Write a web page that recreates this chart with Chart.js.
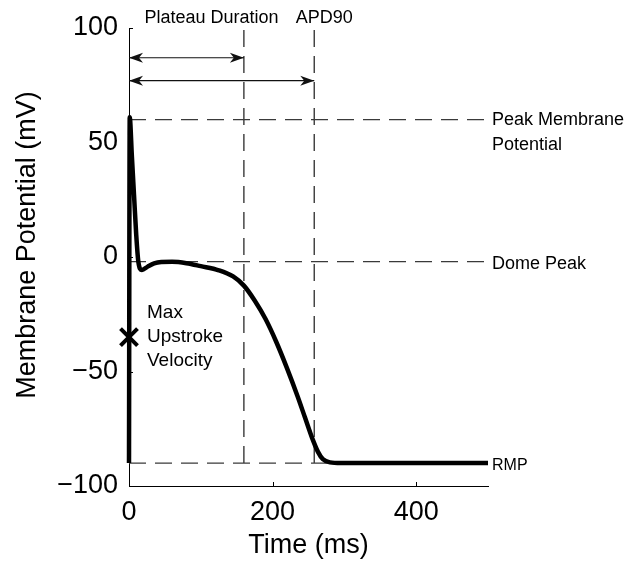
<!DOCTYPE html>
<html>
<head>
<meta charset="utf-8">
<script src="https://cdn.jsdelivr.net/npm/chart.js@4/dist/chart.umd.min.js"></script>
<style>
  html, body { margin: 0; padding: 0; background: #fff; }
</style>
</head>
<body>
<canvas id="apChart" width="624" height="562"></canvas>
<script>
// action potential trace
const timeMs = [0, 1, 4, 7, 10, 13, 18, 26, 35, 45, 60, 80, 100, 125, 145, 160, 175, 190, 205, 220, 235, 245, 255, 263, 270, 280, 295, 350, 500];
const potentialMv = [-90, 61, 44, 27, 10, -2, -5.7, -4.2, -2.8, -2.2, -2.1, -2.7, -4, -5.8, -8.5, -12.5, -19, -27, -37, -48.5, -61, -70, -79, -85, -88.3, -89.7, -90, -90, -90];

// guide levels
const peakMv = 60;
const domePeakMv = -2;
const restMv = -90;
const plateauEndMs = 160;
const apd90Ms = 258;
const guideEndMs = 495;
const plateauArrowMv = 87;
const apdArrowMv = 77;
const upstrokeMs = 0;
const upstrokeMv = -35;

const xTickValues = [0, 200, 400];
const yTickValues = [-100, -50, 0, 50, 100];

const FONT = "'Liberation Sans', Arial, Helvetica, sans-serif";
Chart.defaults.font.family = FONT;
Chart.defaults.color = '#000';

const dashColor = '#3a3a3a';

function seg(x0, y0, x1, y1) {
  return [{ x: x0, y: y0 }, { x: x1, y: y1 }];
}

function guide(data) {
  return {
    data: data,
    borderColor: dashColor,
    borderWidth: 1.4,
    borderDash: [17, 9],
    pointRadius: 0,
    order: 5
  };
}

function arrow(data) {
  return {
    data: data,
    borderColor: '#111',
    borderWidth: 1.2,
    pointRadius: 0,
    isArrow: true,
    order: 4
  };
}

const overlay = {
  id: 'overlay',
  afterDatasetsDraw(chart) {
    const ctx = chart.ctx;
    const xs = chart.scales.x, ys = chart.scales.y;
    const area = chart.chartArea;
    ctx.save();

    // inward tick marks
    ctx.strokeStyle = '#000';
    ctx.lineWidth = 1;
    ctx.beginPath();
    yTickValues.forEach(v => {
      const py = Math.round(ys.getPixelForValue(v)) + 0.5;
      ctx.moveTo(area.left, py);
      ctx.lineTo(area.left + 4, py);
    });
    xTickValues.forEach(v => {
      const px = Math.round(xs.getPixelForValue(v)) + 0.5;
      ctx.moveTo(px, area.bottom);
      ctx.lineTo(px, area.bottom - 4);
    });
    ctx.stroke();

    // arrow heads
    ctx.fillStyle = '#111';
    chart.data.datasets.forEach((ds, i) => {
      if (!ds.isArrow) return;
      const pts = chart.getDatasetMeta(i).data;
      const a = pts[0], b = pts[pts.length - 1];
      [[a.x, a.y, 1], [b.x, b.y, -1]].forEach(([tx, ty, dir]) => {
        ctx.beginPath();
        ctx.moveTo(tx, ty);
        ctx.lineTo(tx + dir * 14, ty - 5);
        ctx.lineTo(tx + dir * 10, ty);
        ctx.lineTo(tx + dir * 14, ty + 5);
        ctx.closePath();
        ctx.fill();
      });
    });

    // annotation text
    ctx.fillStyle = '#000';
    ctx.textBaseline = 'middle';
    ctx.textAlign = 'left';
    const rx = area.right + 4;
    ctx.font = '18px ' + FONT;
    const pPeak = ys.getPixelForValue(peakMv);
    ctx.fillText('Peak Membrane', rx, pPeak);
    ctx.fillText('Potential', rx, pPeak + 25);
    ctx.fillText('Dome Peak', rx, ys.getPixelForValue(domePeakMv) + 2);
    ctx.font = '16px ' + FONT;
    ctx.fillText('RMP', rx, ys.getPixelForValue(restMv) + 2);

    ctx.font = '18px ' + FONT;
    ctx.textAlign = 'center';
    ctx.fillText('Plateau Duration', xs.getPixelForValue(115), 18);
    ctx.fillText('APD90', xs.getPixelForValue(272), 18);

    ctx.font = '19px ' + FONT;
    ctx.textAlign = 'left';
    const mx = xs.getPixelForValue(upstrokeMs) + 18;
    const my = ys.getPixelForValue(upstrokeMv);
    ctx.fillText('Max', mx, my - 24);
    ctx.fillText('Upstroke', mx, my);
    ctx.fillText('Velocity', mx, my + 24);

    // y axis title
    ctx.font = '27px ' + FONT;
    ctx.textAlign = 'center';
    ctx.translate(28, 245);
    ctx.rotate(-Math.PI / 2);
    ctx.fillText('Membrane Potential (mV)', 0, 0);
    ctx.restore();
  }
};

new Chart(document.getElementById('apChart'), {
  type: 'line',
  data: {
    datasets: [
      {
        data: timeMs.map((t, i) => ({ x: t, y: potentialMv[i] })),
        borderColor: '#000',
        borderWidth: 4.5,
        pointRadius: 0,
        cubicInterpolationMode: 'monotone',
        borderJoinStyle: 'round',
        borderCapStyle: 'butt',
        clip: false,
        order: 1
      },
      {
        data: [{ x: upstrokeMs, y: upstrokeMv }],
        showLine: false,
        pointStyle: 'crossRot',
        pointRadius: 12,
        borderColor: '#000',
        borderWidth: 4,
        clip: false,
        order: 0
      },
      guide(seg(0, peakMv, guideEndMs, peakMv)),
      guide(seg(0, domePeakMv, guideEndMs, domePeakMv)),
      guide(seg(0, restMv, guideEndMs, restMv)),
      guide(seg(plateauEndMs, restMv, plateauEndMs, 100)),
      guide(seg(apd90Ms, restMv, apd90Ms, 100)),
      arrow(seg(0, plateauArrowMv, plateauEndMs, plateauArrowMv)),
      arrow(seg(0, apdArrowMv, apd90Ms, apdArrowMv))
    ]
  },
  options: {
    responsive: false,
    animation: false,
    devicePixelRatio: 1,
    layout: { padding: { left: 0, right: 136, top: 28, bottom: 0 } },
    plugins: { legend: { display: false }, tooltip: { enabled: false } },
    scales: {
      x: {
        type: 'linear',
        min: 0,
        max: 500,
        afterBuildTicks: s => { s.ticks = xTickValues.map(v => ({ value: v })); },
        afterFit: s => { s.height = 76; },
        grid: { display: false, drawTicks: false },
        border: { display: true, color: '#000', width: 1 },
        ticks: { font: { size: 27 }, padding: 10, color: '#000', maxRotation: 0 },
        title: { display: true, text: 'Time (ms)', font: { size: 27 }, padding: 0, color: '#000' }
      },
      y: {
        min: -100,
        max: 100,
        afterBuildTicks: s => { s.ticks = yTickValues.map(v => ({ value: v })); },
        afterFit: s => { s.width = 129; },
        grid: { display: false, drawTicks: false },
        border: { display: true, color: '#000', width: 1 },
        ticks: {
          font: { size: 27 },
          padding: 11,
          color: '#000',
          callback: v => (v < 0 ? '\u2212' + Math.abs(v) : String(v))
        }
      }
    }
  },
  plugins: [overlay]
});
</script>
</body>
</html>
